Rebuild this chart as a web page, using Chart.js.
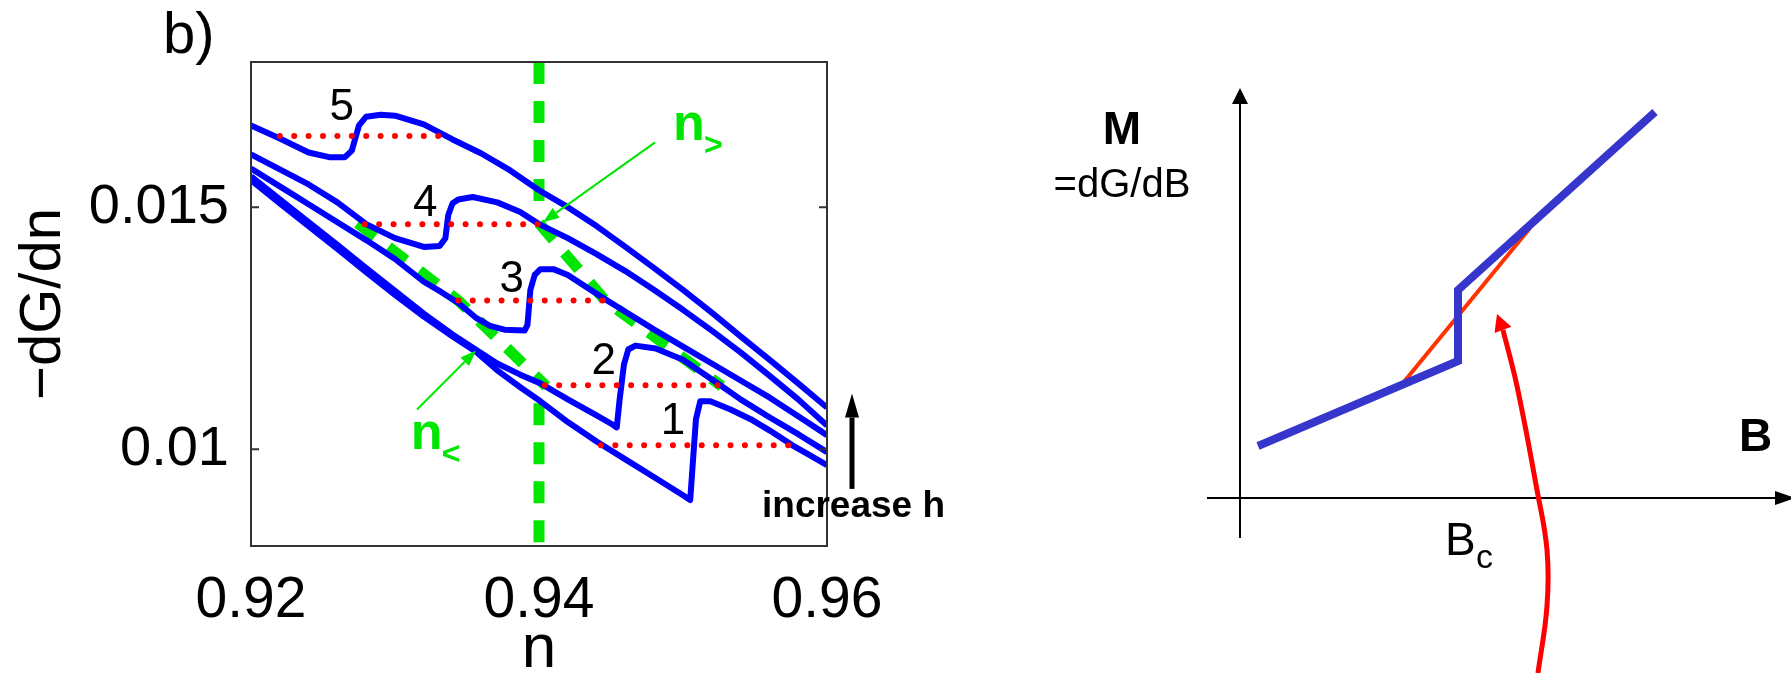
<!DOCTYPE html>
<html>
<head>
<meta charset="utf-8">
<script src="https://cdn.jsdelivr.net/npm/chart.js@4.4.1/dist/chart.umd.min.js"></script>
<style>
  html, body { margin: 0; padding: 0; background: #fff; }
  body { width: 1791px; height: 673px; position: relative; overflow: hidden; }
  #left { position: absolute; left: 0; top: 0; }
  #right { position: absolute; left: 1000px; top: 0; }
</style>
</head>
<body>
<canvas id="left" width="1000" height="673"></canvas>
<canvas id="right" width="791" height="673"></canvas>
<script>
// ---- panel b: -dG/dn against n, curves 1..5 (h increasing) ----
const xTicks = [0.92, 0.94, 0.96];
const xTickLabels = ['0.92', '0.94', '0.96'];
const yTicks = [0.01, 0.015];
const yTickLabels = ['0.01', '0.015'];

const c1N = [0.92, 0.922, 0.924, 0.926, 0.928, 0.93, 0.932, 0.934, 0.9356, 0.9371, 0.9387, 0.9401, 0.942, 0.944, 0.946, 0.948, 0.95, 0.9505, 0.9507, 0.9509, 0.9512, 0.9519, 0.9533, 0.9547, 0.956, 0.9576, 0.9588, 0.96];
const c1V = [0.01556, 0.01508, 0.01461, 0.01414, 0.01366, 0.01319, 0.01274, 0.01233, 0.01202, 0.01163, 0.01128, 0.01099, 0.01056, 0.01016, 0.00979, 0.00942, 0.00905, 0.00895, 0.00979, 0.01062, 0.01099, 0.01099, 0.01082, 0.01062, 0.01039, 0.01008, 0.00988, 0.00967];
const c2N = [0.92, 0.922, 0.924, 0.926, 0.928, 0.93, 0.932, 0.934, 0.9356, 0.9371, 0.9387, 0.9401, 0.942, 0.944, 0.9451, 0.9454, 0.9456, 0.9459, 0.9462, 0.9467, 0.9481, 0.95, 0.9526, 0.954, 0.956, 0.958, 0.96];
const c2V = [0.01564, 0.01516, 0.01469, 0.01422, 0.01374, 0.01327, 0.0128, 0.01237, 0.01206, 0.01177, 0.01154, 0.01136, 0.01103, 0.0107, 0.01051, 0.01045, 0.01103, 0.01175, 0.01206, 0.01214, 0.01208, 0.01185, 0.01132, 0.01103, 0.01066, 0.01031, 0.00994];
const c3N = [0.92, 0.922, 0.924, 0.926, 0.928, 0.93, 0.932, 0.9332, 0.9344, 0.9356, 0.9366, 0.9376, 0.939, 0.9392, 0.9394, 0.9397, 0.9401, 0.941, 0.942, 0.944, 0.946, 0.948, 0.95, 0.952, 0.954, 0.956, 0.958, 0.96];
const c3V = [0.0158, 0.01543, 0.01506, 0.01469, 0.01432, 0.01393, 0.01346, 0.01325, 0.01302, 0.01272, 0.01255, 0.01247, 0.01245, 0.01257, 0.01329, 0.0136, 0.01372, 0.01372, 0.0136, 0.01321, 0.01284, 0.01247, 0.01212, 0.01177, 0.01142, 0.01107, 0.01068, 0.01029];
const c4N = [0.92, 0.922, 0.924, 0.926, 0.928, 0.93, 0.932, 0.9331, 0.9335, 0.9337, 0.934, 0.9344, 0.9354, 0.9371, 0.9387, 0.94, 0.942, 0.944, 0.946, 0.948, 0.95, 0.952, 0.954, 0.956, 0.958, 0.96];
const c4V = [0.01609, 0.01578, 0.01547, 0.0151, 0.01465, 0.01436, 0.01418, 0.0142, 0.01436, 0.01484, 0.01508, 0.01516, 0.01521, 0.0151, 0.0149, 0.01465, 0.01436, 0.01403, 0.01368, 0.01329, 0.01288, 0.01245, 0.012, 0.01152, 0.01103, 0.01049];
const c5N = [0.92, 0.922, 0.924, 0.9255, 0.9265, 0.927, 0.9275, 0.928, 0.929, 0.93, 0.932, 0.934, 0.936, 0.938, 0.94, 0.942, 0.944, 0.946, 0.948, 0.95, 0.952, 0.954, 0.956, 0.958, 0.96];
const c5V = [0.01669, 0.01642, 0.01613, 0.01603, 0.01603, 0.01617, 0.01669, 0.01687, 0.01691, 0.01689, 0.01671, 0.0164, 0.01611, 0.01576, 0.01535, 0.015, 0.01461, 0.01418, 0.01374, 0.01329, 0.01282, 0.01233, 0.01185, 0.01136, 0.01086];

// red dotted equal-area lines, curves 1..5
const eqLevel = [0.01008, 0.01132, 0.01307, 0.01465, 0.01647];
const eqFrom = [0.9443, 0.9404, 0.9344, 0.9279, 0.922];
const eqTo = [0.9575, 0.9526, 0.9446, 0.94, 0.933];

// green dashed loci of n< and n>
const nLowN = [0.9274, 0.9344, 0.9405];
const nLowV = [0.01467, 0.01307, 0.0113];
const nHighN = [0.94, 0.9446, 0.9527];
const nHighV = [0.01467, 0.01307, 0.0113];
const nMark = 0.94;
const nMarkUpper = [0.018, 0.01505];
const nMarkLower = [0.01095, 0.008];

// curve numbers
const curveNames = ['1', '2', '3', '4', '5'];
const nameN = [0.9493, 0.9445, 0.9381, 0.9321, 0.9263];
const nameV = [0.01056, 0.01181, 0.0135, 0.01506, 0.01705];

// ---- right panel: M = dG/dB against B (schematic) ----
const bAxis = [-0.33, 5.51];
const mAxis = [-0.40, 4.10];
const bBlue = [0.18, 2.18, 2.18, 4.15];
const mBlue = [0.52, 1.37, 2.08, 3.86];
const bOrange = [1.63, 2.90];
const mOrange = [1.15, 2.70];
const bCurve = [2.98, 3.07, 3.07, 2.97, 2.77, 2.63];
const mCurve = [-1.75, -1.08, -0.52, 0.08, 1.12, 1.68];
const curveTip = [2.57, 1.84];

const FONT = "'Liberation Sans', Arial, Helvetica, sans-serif";
Chart.defaults.font.family = FONT;
Chart.defaults.color = '#000';

const pts = (xs, ys) => xs.map((x, i) => ({x: x, y: ys[i]}));
const GREEN = '#00e600';

function text(ctx, s, x, y, size, opts = {}) {
  ctx.font = (opts.bold ? 'bold ' : '') + size + 'px ' + FONT;
  ctx.fillStyle = opts.color || '#000';
  ctx.textAlign = opts.align || 'center';
  ctx.textBaseline = opts.base || 'alphabetic';
  ctx.fillText(s, x, y);
}

function arrow(ctx, x0, y0, x1, y1, color, lw, len, half) {
  const a = Math.atan2(y1 - y0, x1 - x0);
  const bx = x1 - len * Math.cos(a), by = y1 - len * Math.sin(a);
  ctx.strokeStyle = color;
  ctx.lineWidth = lw;
  ctx.beginPath();
  ctx.moveTo(x0, y0);
  ctx.lineTo(bx, by);
  ctx.stroke();
  ctx.fillStyle = color;
  ctx.beginPath();
  ctx.moveTo(x1, y1);
  ctx.lineTo(bx + half * Math.sin(a), by - half * Math.cos(a));
  ctx.lineTo(bx - half * Math.sin(a), by + half * Math.cos(a));
  ctx.closePath();
  ctx.fill();
}

const leftDecor = {
  id: 'leftDecor',
  afterDraw(chart) {
    const {ctx, chartArea: a, scales: {x, y}} = chart;
    ctx.save();
    // matlab style box with inward ticks
    ctx.strokeStyle = '#333';
    ctx.lineWidth = 2;
    ctx.strokeRect(a.left, a.top, a.right - a.left, a.bottom - a.top);
    ctx.beginPath();
    yTicks.forEach(v => {
      const py = y.getPixelForValue(v);
      ctx.moveTo(a.left, py); ctx.lineTo(a.left + 8, py);
      ctx.moveTo(a.right, py); ctx.lineTo(a.right - 8, py);
    });
    ctx.stroke();

    curveNames.forEach((s, i) => {
      text(ctx, s, x.getPixelForValue(nameN[i]), y.getPixelForValue(nameV[i]), 44, {base: 'middle'});
    });

    // n> and n< labels with their arrows
    const gx = x.getPixelForValue(0.9493), gy = y.getPixelForValue(0.01638);
    text(ctx, 'n', gx, gy, 52, {bold: true, color: GREEN, align: 'left'});
    text(ctx, '>', gx + 31, gy + 15, 32, {bold: true, color: GREEN, align: 'left'});
    arrow(ctx, x.getPixelForValue(0.94806), y.getPixelForValue(0.01634),
      x.getPixelForValue(0.94028), y.getPixelForValue(0.01469), GREEN, 2, 16, 6);

    const lx = x.getPixelForValue(0.9311), ly = y.getPixelForValue(0.01001);
    text(ctx, 'n', lx, ly, 52, {bold: true, color: GREEN, align: 'left'});
    text(ctx, '<', lx + 31, ly + 15, 32, {bold: true, color: GREEN, align: 'left'});
    arrow(ctx, x.getPixelForValue(0.93153), y.getPixelForValue(0.01082),
      x.getPixelForValue(0.93563), y.getPixelForValue(0.01204), GREEN, 2, 16, 6);

    // increase h
    const ax = a.right + 25;
    arrow(ctx, ax, y.getPixelForValue(0.00918), ax, y.getPixelForValue(0.01115), '#000', 5, 24, 7);
    text(ctx, 'increase h', a.right - 65, y.getPixelForValue(0.00859), 37, {bold: true, align: 'left'});

    text(ctx, 'b)', a.left - 88, a.top - 9, 58, {align: 'left'});
    ctx.restore();
  }
};

const curves = [[c1N, c1V], [c2N, c2V], [c3N, c3V], [c4N, c4V], [c5N, c5V]];
const greenStyle = {borderColor: GREEN, borderWidth: 11, borderDash: [22, 17], showLine: true, order: 2};

new Chart(document.getElementById('left'), {
  type: 'scatter',
  data: {
    datasets: [
      ...eqLevel.map((v, i) => ({
        data: [{x: eqFrom[i], y: v}, {x: eqTo[i], y: v}],
        borderColor: '#ff0000', borderWidth: 6, borderDash: [0, 14.4], borderCapStyle: 'round',
        showLine: true, order: 0
      })),
      ...curves.map(c => ({
        data: pts(c[0], c[1]),
        borderColor: '#0000ff', borderWidth: 6, borderJoinStyle: 'round', showLine: true, order: 1
      })),
      {data: pts([nMark, nMark], nMarkUpper), ...greenStyle},
      {data: pts([nMark, nMark], nMarkLower), ...greenStyle},
      {data: pts(nLowN, nLowV), ...greenStyle},
      {data: pts(nHighN, nHighV), ...greenStyle}
    ]
  },
  options: {
    responsive: false,
    animation: false,
    elements: {point: {radius: 0, hoverRadius: 0}, line: {tension: 0}},
    layout: {padding: {left: 0, top: 62, right: 173, bottom: 0}},
    plugins: {legend: {display: false}, tooltip: {enabled: false}},
    scales: {
      x: {
        type: 'linear', min: 0.92, max: 0.96,
        afterBuildTicks: s => { s.ticks = xTicks.map(v => ({value: v})); },
        afterFit: s => { s.height = 127; },
        ticks: {font: {size: 57}, padding: 13, maxRotation: 0, autoSkip: false,
          callback: (v, i) => xTickLabels[i]},
        grid: {display: false}, border: {display: false},
        title: {display: true, text: 'n', font: {size: 62, lineHeight: 0.75}, padding: {top: 0, bottom: 0}}
      },
      y: {
        type: 'linear', min: 0.008, max: 0.018,
        afterBuildTicks: s => { s.ticks = yTicks.map(v => ({value: v})); },
        afterFit: s => { s.width = 251; },
        ticks: {font: {size: 56}, padding: 14, autoSkip: false,
          callback: (v, i) => yTickLabels[i]},
        grid: {display: false}, border: {display: false},
        title: {display: true, text: '\u2212dG/dn', font: {size: 58}, padding: {top: 9, bottom: 0}}
      }
    }
  },
  plugins: [leftDecor]
});

const rightDecor = {
  id: 'rightDecor',
  beforeDatasetsDraw(chart) {
    const {ctx, scales: {x, y}} = chart;
    ctx.save();
    const ox = x.getPixelForValue(0), oy = y.getPixelForValue(0);
    arrow(ctx, ox, y.getPixelForValue(mAxis[0]), ox, y.getPixelForValue(mAxis[1]), '#000', 2, 16, 8);
    arrow(ctx, x.getPixelForValue(bAxis[0]), oy, x.getPixelForValue(bAxis[1]) + 4, oy, '#000', 2, 20, 7);
    ctx.restore();
  },
  afterDraw(chart) {
    const {ctx, scales: {x, y}} = chart;
    ctx.save();
    const n = bCurve.length - 1;
    arrow(ctx, x.getPixelForValue(bCurve[n]), y.getPixelForValue(mCurve[n]),
      x.getPixelForValue(curveTip[0]), y.getPixelForValue(curveTip[1]), '#ff0000', 5, 17, 9);
    text(ctx, 'M', x.getPixelForValue(-1.18), y.getPixelForValue(3.54), 46, {bold: true});
    text(ctx, '=dG/dB', x.getPixelForValue(-1.18), y.getPixelForValue(3.01), 40);
    text(ctx, 'B', x.getPixelForValue(4.99), y.getPixelForValue(0.47), 46, {bold: true, align: 'left'});
    text(ctx, 'B', x.getPixelForValue(2.05), y.getPixelForValue(-0.57), 46, {align: 'left'});
    text(ctx, 'c', x.getPixelForValue(2.36), y.getPixelForValue(-0.70), 34, {align: 'left'});
    ctx.restore();
  }
};

new Chart(document.getElementById('right'), {
  type: 'scatter',
  data: {
    datasets: [
      {data: pts(bOrange, mOrange), borderColor: '#ff3300', borderWidth: 4, showLine: true, order: 1},
      {data: pts(bBlue, mBlue), borderColor: '#3636cc', borderWidth: 8, borderJoinStyle: 'miter',
        showLine: true, order: 0},
      {data: pts(bCurve, mCurve), borderColor: '#ff0000', borderWidth: 5, showLine: true, tension: 0.4, order: 2}
    ]
  },
  options: {
    responsive: false,
    animation: false,
    elements: {point: {radius: 0, hoverRadius: 0}},
    layout: {padding: 0},
    plugins: {legend: {display: false}, tooltip: {enabled: false}},
    scales: {
      x: {type: 'linear', min: -2.40, max: 5.51, display: false},
      y: {type: 'linear', min: -1.75, max: 4.98, display: false}
    }
  },
  plugins: [rightDecor]
});
</script>
</body>
</html>
